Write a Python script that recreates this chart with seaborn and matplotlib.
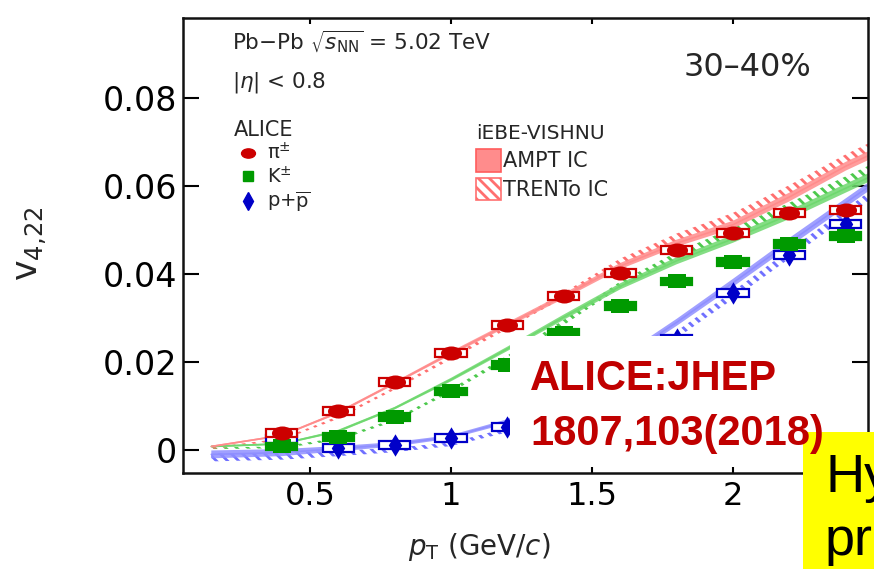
import numpy as np
import pandas as pd
import matplotlib
matplotlib.use("Agg")
import matplotlib.pyplot as plt
import seaborn as sns
from matplotlib.path import Path
from matplotlib.markers import MarkerStyle
from matplotlib.patches import Rectangle, Patch
from matplotlib.lines import Line2D
from matplotlib.transforms import Affine2D

# ---------------- ALICE v4{2,2}, Pb-Pb 30-40% ----------------
pt_pi = [0.4, 0.6, 0.8, 1.0, 1.2, 1.4, 1.6, 1.8, 2.0, 2.2, 2.4]
v422_pi = [0.0038, 0.0089, 0.0155, 0.0221, 0.0284, 0.0351, 0.0403, 0.0455, 0.0494, 0.0539, 0.0546]

pt_k = [0.4, 0.6, 0.8, 1.0, 1.2, 1.4, 1.6, 1.8, 2.0, 2.2, 2.4]
v422_k = [0.0008, 0.0030, 0.0076, 0.0133, 0.0193, 0.0267, 0.0327, 0.0383, 0.0428, 0.0468, 0.0486]

pt_p = [0.4, 0.6, 0.8, 1.0, 1.2, 1.8, 2.0, 2.2, 2.4]
v422_p = [0.0024, 0.0004, 0.0011, 0.0027, 0.0053, 0.0252, 0.0356, 0.0443, 0.0514]

# ---------------- iEBE-VISHNU hydro curves ----------------
pt_model = [0.15, 0.4, 0.6, 0.8, 1.0, 1.2, 1.4, 1.6, 1.8, 2.0, 2.2, 2.4, 2.5]
ampt_pi = [0.0008, 0.0033, 0.0085, 0.0152, 0.0220, 0.0285, 0.0350, 0.0418, 0.0470, 0.0512, 0.0575, 0.0645, 0.0675]
trento_pi = [0.0004, 0.0024, 0.0074, 0.0140, 0.0210, 0.0280, 0.0352, 0.0428, 0.0484, 0.0530, 0.0592, 0.0662, 0.0693]
ampt_k = [0.0008, 0.0014, 0.0043, 0.0095, 0.0160, 0.0230, 0.0302, 0.0372, 0.0430, 0.0480, 0.0535, 0.0595, 0.0625]
trento_k = [0.0004, 0.0006, 0.0025, 0.0068, 0.0135, 0.0210, 0.0290, 0.0376, 0.0442, 0.0496, 0.0552, 0.0612, 0.0642]
ampt_p = [-0.0010, -0.0006, 0.0003, 0.0013, 0.0030, 0.0065, 0.0125, 0.0205, 0.0290, 0.0380, 0.0472, 0.0562, 0.0607]
trento_p = [-0.0017, -0.0014, -0.0008, 0.0000, 0.0013, 0.0045, 0.0100, 0.0178, 0.0262, 0.0352, 0.0445, 0.0538, 0.0585]
halfw_pi = [0.0002, 0.0002, 0.0003, 0.0003, 0.0004, 0.0005, 0.0006, 0.0007, 0.0008, 0.0009, 0.0010, 0.0010, 0.0010]
halfw_k = [0.0002, 0.0002, 0.0003, 0.0003, 0.0004, 0.0005, 0.0006, 0.0007, 0.0008, 0.0009, 0.0010, 0.0010, 0.0010]
halfw_p = [0.0009, 0.0008, 0.0006, 0.0005, 0.0004, 0.0005, 0.0006, 0.0007, 0.0008, 0.0009, 0.0010, 0.0010, 0.0010]

x_ticks = [0.5, 1.0, 1.5, 2.0]
x_ticklabels = ["0.5", "1", "1.5", "2"]
y_ticks = [0.0, 0.02, 0.04, 0.06, 0.08]
y_ticklabels = ["0", "0.02", "0.04", "0.06", "0.08"]

sns.set_theme(style="ticks")
plt.rcParams["font.family"] = ["DejaVu Sans"]
plt.rcParams["mathtext.fontset"] = "dejavusans"
plt.rcParams["hatch.linewidth"] = 2.0

RED, GREEN, BLUE = "#cc0000", "#009a00", "#0000c8"
RED_BAND, GREEN_BAND, BLUE_BAND = "#ff8c8c", "#6fd86f", "#8f8fff"
RED_HATCH, GREEN_HATCH, BLUE_HATCH = "#ff6f6f", "#4cc94c", "#7070ff"
SLIDE_FONT = ["Liberation Sans", "DejaVu Sans"]

fig = plt.figure(figsize=(8.74, 5.69), dpi=100)
fig.patch.set_facecolor("white")
ax = fig.add_axes([0.20938, 0.16872, 0.78375, 0.79965])
ax.set_facecolor("white")

# hydro bands: solid = AMPT IC, hatched = TRENTo IC
models = pd.DataFrame({"pt": pt_model,
                       "ampt_pi": ampt_pi, "trento_pi": trento_pi,
                       "ampt_k": ampt_k, "trento_k": trento_k,
                       "ampt_p": ampt_p, "trento_p": trento_p,
                       "hw_pi": halfw_pi, "hw_k": halfw_k, "hw_p": halfw_p})
for sp, band, hatch_c in [("p", BLUE_BAND, BLUE_HATCH),
                          ("k", GREEN_BAND, GREEN_HATCH),
                          ("pi", RED_BAND, RED_HATCH)]:
    x = models["pt"]
    a = models[f"ampt_{sp}"]
    t = models[f"trento_{sp}"]
    hw = models[f"hw_{sp}"]
    ax.fill_between(x, t - hw, t + hw, facecolor="none", edgecolor=hatch_c,
                    hatch="\\\\\\", linewidth=0, zorder=1)
    ax.fill_between(x, a - hw, a + hw, facecolor=band, edgecolor="none",
                    alpha=0.85, zorder=2)
    sns.lineplot(x=x, y=a, ax=ax, color=band, lw=1.2, zorder=2, legend=False)

# measurement markers
ellipse = Path.unit_circle().transformed(Affine2D().scale(1.5, 1.0))
wide_sq = Path([(-1.3, -1), (1.3, -1), (1.3, 1), (-1.3, 1), (-1.3, -1)],
               [Path.MOVETO, Path.LINETO, Path.LINETO, Path.LINETO, Path.CLOSEPOLY])

box_hw, box_hh = 0.055, 0.0009
for pts, vals, col, filled in [(pt_p, v422_p, BLUE, False),
                               (pt_k, v422_k, GREEN, True),
                               (pt_pi, v422_pi, RED, False)]:
    for x, y in zip(pts, vals):
        ax.add_patch(Rectangle((x - box_hw, y - box_hh), 2 * box_hw, 2 * box_hh,
                               facecolor=col if filled else "white",
                               edgecolor=col, lw=1.6, zorder=3))

sns.scatterplot(x=pt_p, y=v422_p, ax=ax, marker="d", s=130, color=BLUE,
                edgecolor=BLUE, linewidth=0, zorder=4)
sns.scatterplot(x=pt_k, y=v422_k, ax=ax, marker=MarkerStyle(wide_sq), s=160,
                color=GREEN, edgecolor=GREEN, linewidth=0, zorder=4)
sns.scatterplot(x=pt_pi, y=v422_pi, ax=ax, marker=MarkerStyle(ellipse), s=230,
                color=RED, edgecolor=RED, linewidth=0, zorder=5)

# axes
ax.set_xlim(0.0496, 2.4787)
ax.set_ylim(-0.00523, 0.09818)
ax.set_xticks(x_ticks)
ax.set_xticklabels(x_ticklabels)
ax.set_yticks(y_ticks)
ax.set_yticklabels(y_ticklabels)
ax.tick_params(axis="x", direction="in", top=True, length=4.5, width=1.5,
               labelsize=23, pad=6, colors="black")
ax.tick_params(axis="y", direction="in", right=True, length=11.5, width=1.5,
               labelsize=24, pad=4, colors="black")
for s in ax.spines.values():
    s.set_linewidth(1.8)
    s.set_color("#111111")

ax.set_xlabel(r"$p_{\mathregular{T}}$ (GeV/$c$)", fontsize=20)
ax.xaxis.set_label_coords(0.432, -0.128)
ax.set_ylabel(r"$\mathregular{v_{4{,}22}}$", fontsize=25)
ax.yaxis.set_label_coords(-0.196, 0.505)

ax.text(0.072, 0.948, r"Pb$-$Pb $\sqrt{s_{\mathregular{NN}}}$ = 5.02 TeV",
        transform=ax.transAxes, fontsize=15.5, va="center", ha="left")
ax.text(0.072, 0.859, r"$|\eta|$ < 0.8", transform=ax.transAxes,
        fontsize=15.5, va="center", ha="left")
ax.text(0.731, 0.892, "30\u201340%", transform=ax.transAxes,
        fontsize=23, va="center", ha="left")

# legends
alice_handles = [
    Line2D([], [], ls="none", marker=MarkerStyle(ellipse), ms=10, color=RED),
    Line2D([], [], ls="none", marker="s", ms=7.5, color=GREEN),
    Line2D([], [], ls="none", marker="d", ms=9, color=BLUE),
]
leg1 = ax.legend(alice_handles,
                 [r"π$^{\pm}$", r"K$^{\pm}$", r"p+$\mathregular{\overline{p}}$"],
                 title="ALICE", loc="upper left", bbox_to_anchor=(0.074, 0.776),
                 frameon=False, fontsize=14, title_fontsize=15,
                 handlelength=1.5, handletextpad=0.2, labelspacing=0.12,
                 borderpad=0, borderaxespad=0, alignment="left")
ax.add_artist(leg1)
model_handles = [
    Patch(facecolor=RED_BAND, edgecolor="#ff5c5c", lw=1.2),
    Patch(facecolor="white", edgecolor=RED_HATCH, hatch="\\\\\\", lw=1.2),
]
ax.legend(model_handles, ["AMPT IC", "TRENTo IC"], title="iEBE-VISHNU",
          loc="upper left", bbox_to_anchor=(0.428, 0.768), frameon=False,
          fontsize=15, title_fontsize=14.5, handlelength=1.2, handleheight=1.3,
          handletextpad=0.1, labelspacing=0.3, borderpad=0, borderaxespad=0,
          alignment="left")

# slide overlays: reference note and side banner
fig.add_artist(Rectangle((0.5835, 0.1845), 0.3833, 0.225, transform=fig.transFigure,
                         facecolor="white", edgecolor="none", zorder=5))
banner = Rectangle((0.9188, 0.0), 0.1, 0.2408, transform=fig.transFigure,
                   facecolor="#ffff00", edgecolor="none", zorder=6)
fig.add_artist(banner)
fig.text(0.6064, 1 - 390 / 569, "ALICE:JHEP", fontsize=30, fontweight="bold",
         color="#c00000", family=SLIDE_FONT, va="baseline", ha="left", zorder=7)
fig.text(0.6064, 1 - 445 / 569, "1807,103(2018)", fontsize=30, fontweight="bold",
         color="#c00000", family=SLIDE_FONT, va="baseline", ha="left", zorder=7)
for label, base in [("Hy", 492), ("pro", 555)]:
    t = fig.text(825 / 874, 1 - base / 569, label, fontsize=39, color="black",
                 family=SLIDE_FONT, va="baseline", ha="left", zorder=7)
    t.set_clip_path(banner)

fig.savefig("out.png", dpi=100, facecolor="white")
